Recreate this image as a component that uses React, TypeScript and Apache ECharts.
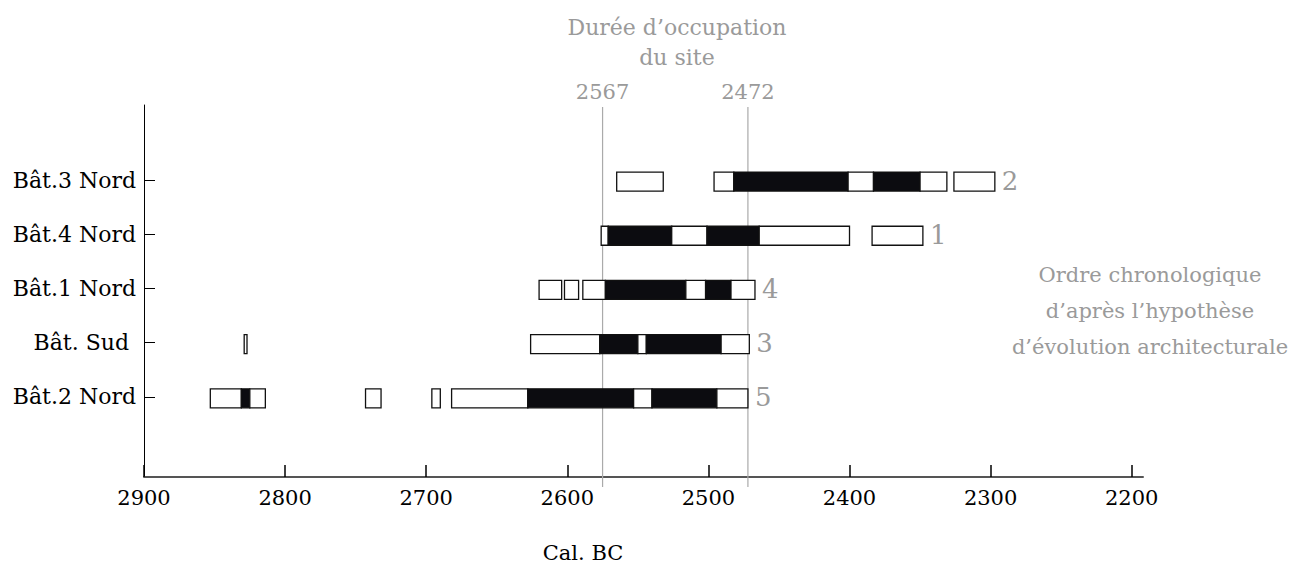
import React, { useEffect, useRef } from "react";
import * as echarts from "echarts";

// Rows from bottom (1) to top (5)
const rowNames = ["Bât.2 Nord", "Bât. Sud ", "Bât.1 Nord", "Bât.4 Nord", "Bât.3 Nord"];
const rowValues = [1, 2, 3, 4, 5];

// Segments: [start year BC, end year BC, kind] — "w" = open box, "b" = black box
const bat2Nord: [number, number, string][] = [
  [2853, 2831, "w"], [2831, 2825, "b"], [2825, 2814, "w"],
  [2743, 2732, "w"], [2696, 2690, "w"],
  [2682, 2628, "w"], [2628, 2553, "b"], [2553, 2540, "w"], [2540, 2494, "b"], [2494, 2472, "w"],
];
const batSud: [number, number, string][] = [
  [2829, 2827, "w"],
  [2626, 2577, "w"], [2577, 2550, "b"], [2550, 2544, "w"], [2544, 2491, "b"], [2491, 2471, "w"],
];
const bat1Nord: [number, number, string][] = [
  [2620, 2604, "w"], [2602, 2592, "w"], [2589, 2573, "w"],
  [2573, 2516, "b"], [2516, 2502, "w"], [2502, 2484, "b"], [2484, 2467, "w"],
];
const bat4Nord: [number, number, string][] = [
  [2576, 2571, "w"], [2571, 2526, "b"], [2526, 2501, "w"], [2501, 2464, "b"], [2464, 2400, "w"],
  [2384, 2348, "w"],
];
const bat3Nord: [number, number, string][] = [
  [2565, 2532, "w"],
  [2496, 2482, "w"], [2482, 2401, "b"], [2401, 2383, "w"], [2383, 2350, "b"], [2350, 2331, "w"],
  [2326, 2297, "w"],
];
const rowSegments = [bat2Nord, batSud, bat1Nord, bat4Nord, bat3Nord];

// Chronological order labels (per row, bottom to top)
const rankLabels = ["5", "3", "4", "1", "2"];

// Axis ticks
const xTicks = [2900, 2800, 2700, 2600, 2500, 2400, 2300, 2200];

// Site occupation lines
const occupationYears = [2575, 2472];
const occupationLabels = ["2567", "2472"];

const SERIF = "'DejaVu Serif', serif";
const GREY = "#9a9a9a";

export default function App() {
  const ref = useRef<HTMLDivElement>(null);

  useEffect(() => {
    if (!ref.current) return;
    const chart = echarts.init(ref.current, undefined, { renderer: "svg" });

    const segData: number[][] = [];
    rowSegments.forEach((segs, r) => {
      segs.forEach((s) => {
        segData.push([s[0], s[1], rowValues[r], s[2] === "b" ? 1 : 0]);
      });
    });

    const rankData = rowSegments.map((segs, r) => [
      Math.min(...segs.map((s) => s[1])),
      rowValues[r],
      r,
    ]);

    const lineData = occupationYears.map((y, i) => [y, i]);

    const option: any = {
      animation: false,
      grid: { left: 144, right: 156, top: 105, bottom: 90 },
      xAxis: {
        type: "value",
        inverse: true,
        min: 2192,
        max: 2900,
        axisLine: { show: true, onZero: false, lineStyle: { color: "#555", width: 2 } },
        axisTick: {
          show: true,
          inside: true,
          length: 12,
          customValues: xTicks,
          lineStyle: { color: "#000", width: 1.5 },
        },
        axisLabel: {
          customValues: xTicks,
          formatter: (v: number) => String(v),
          color: "#000",
          fontFamily: SERIF,
          fontSize: 21,
          margin: 10,
        },
        splitLine: { show: false },
      },
      yAxis: {
        type: "value",
        min: -0.48,
        max: 6.385,
        position: "left",
        axisLine: { show: true, onZero: false, lineStyle: { color: "#000", width: 1 } },
        axisTick: {
          show: true,
          inside: true,
          length: 11,
          customValues: rowValues,
          lineStyle: { color: "#000", width: 1 },
        },
        axisLabel: {
          customValues: rowValues,
          formatter: (v: number) => rowNames[Math.round(v) - 1] || "",
          color: "#000",
          fontFamily: SERIF,
          fontSize: 22,
          margin: 8,
        },
        splitLine: { show: false },
      },
      graphic: [
        {
          type: "text",
          x: 677,
          y: 12,
          style: {
            text: "Durée d’occupation\ndu site",
            fill: GREY,
            font: `22px ${SERIF}`,
            align: "center",
            lineHeight: 30,
          },
        },
        {
          type: "text",
          x: 1150,
          y: 257,
          style: {
            text: "Ordre chronologique\nd’après l’hypothèse\nd’évolution architecturale",
            fill: GREY,
            font: `21px ${SERIF}`,
            align: "center",
            lineHeight: 36,
          },
        },
        {
          type: "text",
          x: 583,
          y: 553,
          style: {
            text: "Cal. BC",
            fill: "#000",
            font: `21px ${SERIF}`,
            align: "center",
            verticalAlign: "middle",
          },
        },
      ],
      series: [
        {
          type: "custom",
          name: "occupation",
          clip: false,
          z: 1,
          data: lineData,
          encode: { x: 0 },
          renderItem: (params: any, api: any) => {
            const year = api.value(0);
            const idx = api.value(1);
            const top = api.coord([year, 6.385]);
            const bottom = api.coord([year, -0.48]);
            return {
              type: "group",
              children: [
                {
                  type: "line",
                  shape: { x1: top[0], y1: top[1] + 2, x2: bottom[0], y2: bottom[1] + 10 },
                  style: { stroke: "#aaa", lineWidth: 1.2 },
                },
                {
                  type: "text",
                  x: top[0],
                  y: top[1] - 13,
                  style: {
                    text: occupationLabels[idx],
                    fill: GREY,
                    font: `21px ${SERIF}`,
                    align: "center",
                    verticalAlign: "middle",
                  },
                },
              ],
            };
          },
        },
        {
          type: "custom",
          name: "segments",
          clip: false,
          z: 3,
          data: segData,
          encode: { x: [0, 1], y: 2 },
          renderItem: (params: any, api: any) => {
            const a = api.coord([api.value(0), api.value(2)]);
            const b = api.coord([api.value(1), api.value(2)]);
            const h = 19;
            const black = api.value(3) === 1;
            return {
              type: "rect",
              shape: {
                x: Math.min(a[0], b[0]),
                y: a[1] - h / 2 + 1.5,
                width: Math.abs(b[0] - a[0]),
                height: h,
              },
              style: {
                fill: black ? "#0c0c10" : "#fff",
                stroke: "#111",
                lineWidth: 1.3,
              },
            };
          },
        },
        {
          type: "custom",
          name: "rank",
          clip: false,
          z: 4,
          data: rankData,
          encode: { x: 0, y: 1 },
          renderItem: (params: any, api: any) => {
            const p = api.coord([api.value(0), api.value(1)]);
            return {
              type: "text",
              x: p[0] + 7,
              y: p[1] + 0.5,
              style: {
                text: rankLabels[api.value(2)],
                fill: GREY,
                font: `26px ${SERIF}`,
                align: "left",
                verticalAlign: "middle",
              },
            };
          },
        },
      ],
    };

    chart.setOption(option);
    return () => chart.dispose();
  }, []);

  return (
    <div
      ref={ref}
      style={{ position: "absolute", left: 0, top: 0, width: 1299, height: 567, background: "#fff" }}
    />
  );
}
